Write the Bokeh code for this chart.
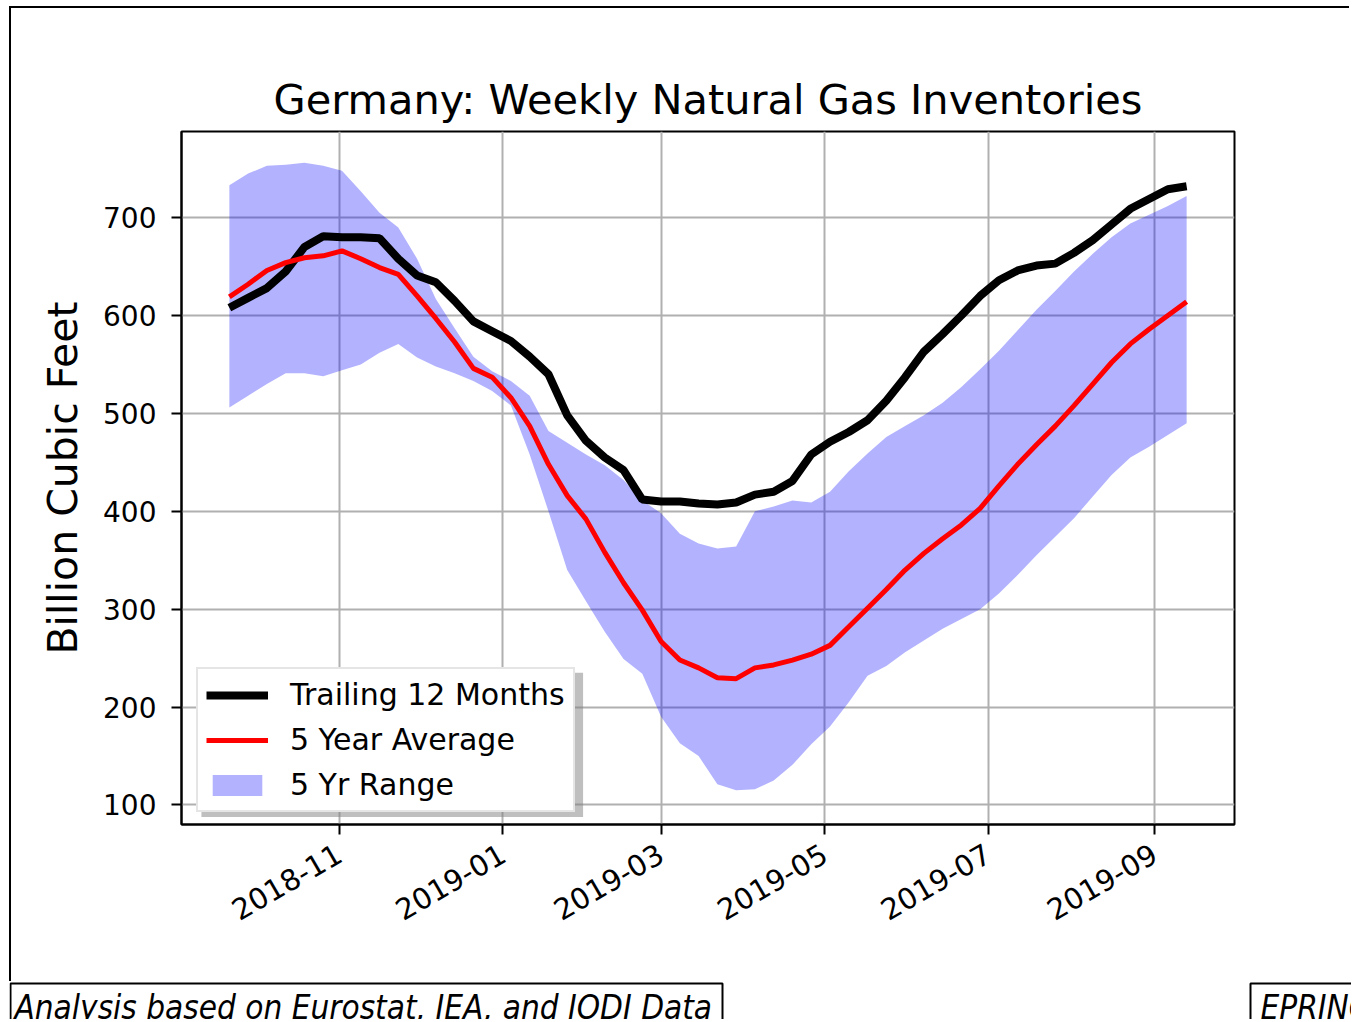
import math
import pandas as pd
from bokeh.plotting import figure
from bokeh.layouts import column
from bokeh.models import (Range1d, DatetimeTickFormatter, MonthsTicker, FixedTicker,
                          Legend, LegendItem, BoxAnnotation)
from bokeh.core.properties import value
from bokeh.embed import file_html
from bokeh.resources import INLINE

# ---------------- data ----------------
dates = pd.date_range("2018-09-21", periods=52, freq="7D")

trailing_12m = [608, 618, 628, 645, 670, 681, 680, 680, 679, 658,
                641, 634, 615, 594, 584, 574, 558, 540, 498, 472,
                455, 442, 412, 410, 410, 408, 407, 409, 417, 420,
                431, 458, 471, 481, 493, 513, 537, 563, 581, 600,
                620, 636, 646, 651, 653, 664, 677, 693, 709, 719,
                729, 732]

five_year_avg = [619, 632, 646, 654, 659, 661, 666, 658, 649, 642,
                 620, 597, 573, 546, 537, 516, 487, 448, 416, 392,
                 358, 327, 299, 267, 248, 240, 230, 229, 240, 243,
                 248, 254, 263, 282, 301, 320, 340, 357, 372, 386,
                 403, 426, 448, 468, 487, 508, 530, 552, 571, 586,
                 600, 614]

range_high = [733, 745, 753, 754, 756, 753, 748, 727, 705, 690,
              658, 617, 587, 558, 543, 533, 518, 482, 470, 458,
              447, 432, 411, 398, 377, 367, 362, 364, 400, 405,
              411, 409, 420, 441, 459, 476, 487, 498, 511, 527,
              545, 564, 585, 606, 625, 645, 663, 680, 694, 703,
              712, 722]

range_low = [506, 518, 530, 541, 541, 538, 544, 550, 562, 571,
             557, 548, 541, 533, 523, 508, 458, 400, 340, 308,
             277, 249, 234, 190, 163, 150, 121, 115, 116, 125,
             141, 162, 180, 205, 232, 242, 256, 268, 280, 290,
             300, 316, 335, 355, 374, 393, 415, 437, 455, 466,
             478, 490]

y_ticks = [100, 200, 300, 400, 500, 600, 700]
x_tick_months = [1, 3, 5, 7, 9, 11]   # calendar months shown as ticks

series_labels = ["Trailing 12 Months", "5 Year Average", "5 Yr Range"]
title_text = "Germany: Weekly Natural Gas Inventories"
y_label = "Billion Cubic Feet"
footer_texts = ["Analysis based on Eurostat, IEA,  and JODI Data", "EPRINC"]

# ---------------- main figure ----------------
pad = pd.Timedelta(days=17.85)
x_start = dates[0] - pad
x_end = dates[-1] + pad

FONT = "DejaVu Sans"
W = 1340

p = figure(width=W, height=975, x_axis_type="datetime",
           output_backend="svg", toolbar_location=None,
           x_range=Range1d(x_start, x_end), y_range=Range1d(80, 788),
           min_border_left=170, min_border_right=117,
           min_border_top=123, min_border_bottom=159)
p.frame_align = False
p.styles = {"border-top": "2px solid black", "border-left": "2px solid black"}

p.title.text = title_text
p.title.align = "center"
p.title.text_font = FONT
p.title.text_font_size = "41.5px"
p.title.text_font_style = "normal"
p.title.text_color = "black"
p.title.standoff = 16

p.outline_line_color = "black"
p.outline_line_width = 2
p.outline_line_alpha = 1.0
p.background_fill_color = "white"
p.border_fill_color = "white"

for g in (p.xgrid, p.ygrid):
    g.grid_line_color = "#b0b0b0"
    g.grid_line_width = 2

p.yaxis.ticker = FixedTicker(ticks=y_ticks)
p.xaxis.ticker = MonthsTicker(months=[m - 1 for m in x_tick_months])
fmt = "%Y-%m"
p.xaxis.formatter = DatetimeTickFormatter(
    months=fmt, days=fmt, years=fmt, hours=fmt, minutes=fmt)
p.xaxis.major_label_orientation = math.pi / 6

for ax in (p.xaxis, p.yaxis):
    ax.axis_line_color = "black"
    ax.axis_line_width = 2
    ax.major_tick_line_color = "black"
    ax.major_tick_line_width = 2
    ax.major_tick_out = 10
    ax.major_tick_in = 0
    ax.minor_tick_out = 0
    ax.minor_tick_in = 0
    ax.major_label_text_font = FONT
    ax.major_label_text_color = "black"
p.yaxis.major_label_text_font_size = "28px"
p.xaxis.major_label_text_font_size = "29px"
p.yaxis.major_label_standoff = 15
p.xaxis.major_label_standoff = 17

p.yaxis.axis_label = y_label
p.yaxis.axis_label_text_font = FONT
p.yaxis.axis_label_text_font_size = "41px"
p.yaxis.axis_label_text_font_style = "normal"
p.yaxis.axis_label_text_color = "black"
p.yaxis.axis_label_standoff = 13

band = p.varea(x=dates, y1=range_low, y2=range_high,
               fill_color="blue", fill_alpha=0.3)
blk = p.line(dates, trailing_12m, line_color="black", line_width=8)
red = p.line(dates, five_year_avg, line_color="red", line_width=5)

# legend shadow (pixel positions of the reference converted to data units)
ref = pd.Timestamp("2018-11-01")
px_per_day = 2.684
def page_x_to_ms(px):
    return (ref + pd.Timedelta(days=(px - 338) / px_per_day)).value / 1e6
def page_y_to_val(py):
    return 100 - (py - 804) / 0.978

shadow = BoxAnnotation(left=page_x_to_ms(200), right=page_x_to_ms(582),
                       top=page_y_to_val(672), bottom=page_y_to_val(816),
                       fill_color="#7f7f7f", fill_alpha=0.5, line_alpha=0)
p.add_layout(shadow)

legend = Legend(items=[
    LegendItem(label=series_labels[0], renderers=[blk]),
    LegendItem(label=series_labels[1], renderers=[red]),
    LegendItem(label=series_labels[2], renderers=[band]),
], location=(15, 12))
legend.label_text_font = FONT
legend.label_text_font_size = "30px"
legend.label_text_color = "black"
legend.glyph_width = 62
legend.glyph_height = 26
legend.label_standoff = 22
legend.spacing = 10
legend.padding = 8
legend.margin = 0
legend.border_line_color = "#cccccc"
legend.border_line_width = 2
legend.background_fill_color = "white"
legend.background_fill_alpha = 1.0
p.add_layout(legend)

# ---------------- footer strip ----------------
FH = 38
f = figure(width=W + 2, height=FH, output_backend="svg", toolbar_location=None,
           x_range=Range1d(0, W + 2), y_range=Range1d(0, FH),
           x_axis_location=None, y_axis_location=None,
           min_border=0, min_border_left=0, min_border_right=0,
           min_border_top=0, min_border_bottom=0)
f.frame_align = False
f.grid.visible = False
f.outline_line_color = None
f.background_fill_color = "white"
f.border_fill_color = "white"

f.quad(left=[1, 1241], right=[713, 1500], top=[36, 36], bottom=[-10, -10],
       fill_color=None, line_color="black", line_width=2)
f.text(x=[5, 1251], y=[12, 12], text=footer_texts,
       text_font=value("DejaVu Sans Condensed, DejaVu Sans"),
       text_font_size="33px", text_font_style="italic",
       text_color="black", text_align="left", text_baseline="alphabetic")

layout = column(p, f, spacing=0)
layout.styles = {"margin-left": "9px", "margin-top": "6px"}

open("out.html", "w").write(file_html(layout, INLINE))
